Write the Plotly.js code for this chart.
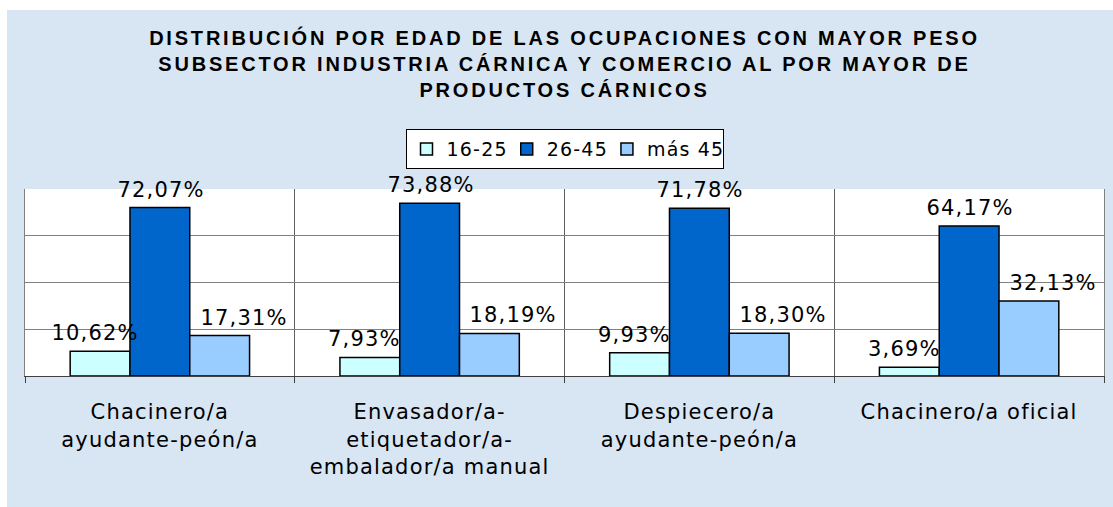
<!DOCTYPE html>
<html>
<head>
<meta charset="utf-8">
<script src="https://cdn.plot.ly/plotly-3.0.1.min.js"></script>
<style>
  html, body { margin: 0; padding: 0; background: #ffffff; }
  #chart { position: absolute; left: 7px; top: 10px; width: 1106px; height: 497px; }
  #chart text { letter-spacing: 1.2px; }
  #chart .gtitle { letter-spacing: 2.8px; }
</style>
</head>
<body>
<div id="chart"></div>
<script>
const categories = [
  'Chacinero/a<br>ayudante-peón/a',
  'Envasador/a-<br>etiquetador/a-<br>embalador/a manual',
  'Despiecero/a<br>ayudante-peón/a',
  'Chacinero/a oficial'
];
const seriesNames = ['16-25', '26-45', 'más 45'];
const values16_25 = [10.62, 7.93, 9.93, 3.69];
const values26_45 = [72.07, 73.88, 71.78, 64.17];
const valuesMas45 = [17.31, 18.19, 18.30, 32.13];
const seriesValues = [values16_25, values26_45, valuesMas45];
const seriesColors = ['#CCFFFF', '#0066CC', '#99CCFF'];

const bargap = 0.335;
const barW = (1 - bargap) / 3;
const labelXShift = [-5, 1, 24];

function fmt(v) { return v.toFixed(2).replace('.', ',') + '%'; }

const traces = seriesValues.map((vals, i) => ({
  type: 'bar',
  name: seriesNames[i],
  x: categories,
  y: vals,
  marker: { color: seriesColors[i], line: { color: '#000000', width: 1.5 } },
  hoverinfo: 'none'
}));

const annotations = [];
seriesValues.forEach((vals, i) => {
  vals.forEach((v, j) => {
    annotations.push({
      x: j + (i - 1) * barW,
      y: v,
      xref: 'x', yref: 'y',
      text: fmt(v),
      showarrow: false,
      yanchor: 'bottom',
      xanchor: 'center',
      yshift: 4,
      xshift: labelXShift[i],
      font: { family: 'DejaVu Sans', size: 21, color: '#000000' }
    });
  });
});

const layout = {
  width: 1106,
  height: 497,
  paper_bgcolor: '#d8e5f3',
  plot_bgcolor: '#ffffff',
  margin: { l: 18, r: 9, t: 179, b: 131 },
  barmode: 'group',
  bargap: bargap,
  bargroupgap: 0,
  title: {
    text: 'DISTRIBUCIÓN POR EDAD DE LAS OCUPACIONES CON MAYOR PESO<br>SUBSECTOR INDUSTRIA CÁRNICA Y COMERCIO AL POR MAYOR DE<br>PRODUCTOS CÁRNICOS',
    font: { family: 'Liberation Sans', size: 20, color: '#000000', weight: 'bold' },
    x: 0.5, xref: 'paper', xanchor: 'center',
    y: 0.93, yref: 'container', yanchor: 'top'
  },
  showlegend: true,
  legend: {
    orientation: 'h',
    x: 0.5, xanchor: 'center',
    y: 1.32, yanchor: 'top',
    bgcolor: '#ffffff',
    bordercolor: '#000000',
    borderwidth: 1,
    font: { family: 'DejaVu Sans', size: 19, color: '#000000' },
    itemclick: false
  },
  xaxis: {
    type: 'category',
    tickson: 'boundaries',
    showgrid: true,
    gridcolor: '#606060',
    gridwidth: 1,
    ticks: 'outside',
    ticklen: 6,
    tickcolor: '#404040',
    showline: true,
    linecolor: '#404040',
    linewidth: 1,
    mirror: false,
    tickfont: { family: 'DejaVu Sans', size: 21, color: '#000000' },
    ticklabelstandoff: 17
  },
  yaxis: {
    range: [0, 80],
    dtick: 20,
    showgrid: true,
    gridcolor: '#808080',
    gridwidth: 1,
    showticklabels: false,
    zeroline: false,
    showline: true,
    linecolor: '#808080',
    mirror: true,
    ticks: ''
  },
  annotations: annotations
};

Plotly.newPlot('chart', traces, layout, { displayModeBar: false, staticPlot: true });
</script>
</body>
</html>
